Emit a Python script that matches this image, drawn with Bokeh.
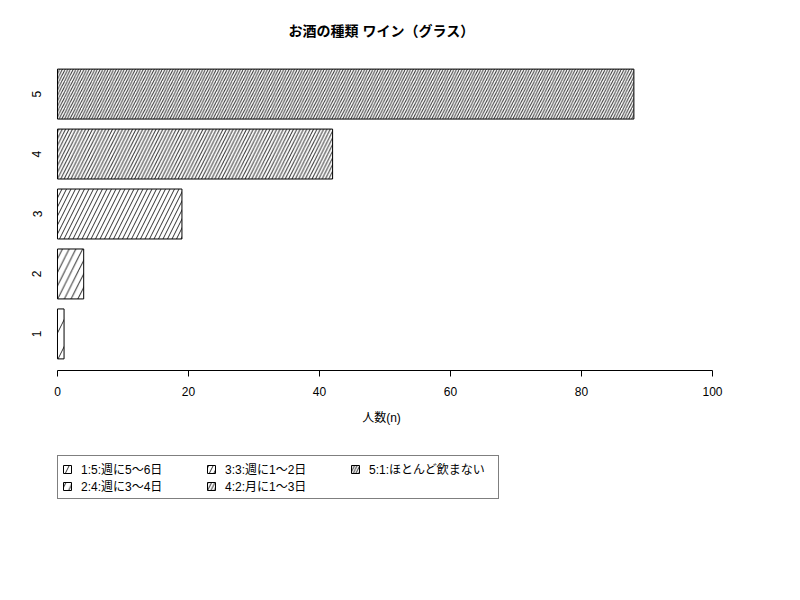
from bokeh.plotting import figure
from bokeh.layouts import column
from bokeh.models import (FactorRange, Range1d, ColumnDataSource, Legend, LegendItem,
                          FixedTicker, CDSView, IndexFilter)
from bokeh.embed import file_html
from bokeh.resources import INLINE

# ---- data ----
title_text = "お酒の種類 ワイン（グラス）"
categories = ["1", "2", "3", "4", "5"]
counts = [1, 4, 19, 42, 88]
legend_labels = ["1:5:週に5〜6日", "2:4:週に3〜4日", "3:3:週に1〜2日",
                 "4:2:月に1〜3日", "5:1:ほとんど飲まない"]
x_ticks = [0, 20, 40, 60, 80, 100]
x_label = "人数(n)"

# ---- styles ----
FONT = "Liberation Sans, Noto Sans CJK JP"
hatch_scales = [27, 13.5, 9, 6.7, 5.4]   # denser hatching for each bar

source = ColumnDataSource(dict(cat=categories, n=counts))


def add_bars(fig):
    rs = []
    for i, hs in enumerate(hatch_scales):
        rs.append(fig.hbar(y="cat", right="n", left=0, source=source,
                           view=CDSView(filter=IndexFilter([i])),
                           height=0.833, fill_color="white", line_color="black",
                           line_width=1, hatch_pattern="/", hatch_scale=hs,
                           hatch_color="black", hatch_weight=1, hatch_alpha=0.8))
    return rs


# ---------------- main chart ----------------
p = figure(width=784, height=440, output_backend="svg", toolbar_location=None,
           y_range=FactorRange(factors=categories, range_padding=0.11,
                               range_padding_units="absolute"),
           x_range=Range1d(-1.832, 100.763),
           min_border_left=45, min_border_right=67, min_border_top=57,
           min_border_bottom=70, background_fill_color="white",
           border_fill_color="white")

add_bars(p)

p.title.text = title_text
p.title.align = "center"
p.title.text_font = FONT
p.title.text_font_size = "14px"
p.title.text_font_style = "bold"
p.title.text_color = "black"
p.title.standoff = 38

p.grid.visible = False
p.outline_line_color = None

xa = p.xaxis[0]
xa.ticker = FixedTicker(ticks=x_ticks)
xa.bounds = (0, 100)
xa.major_tick_out = 6
xa.major_tick_in = 0
xa.minor_tick_line_color = None
xa.major_label_text_font = FONT
xa.major_label_text_font_size = "12px"
xa.major_label_text_color = "black"
xa.major_label_standoff = 10
xa.axis_label = x_label
xa.axis_label_text_font = FONT
xa.axis_label_text_font_size = "12px"
xa.axis_label_text_font_style = "normal"
xa.axis_label_text_color = "black"
xa.axis_label_standoff = 12
xa.axis_line_color = "black"
xa.major_tick_line_color = "black"

ya = p.yaxis[0]
ya.axis_line_color = None
ya.major_tick_line_color = None
ya.minor_tick_line_color = None
ya.major_tick_out = 0
ya.major_tick_in = 0
ya.major_label_orientation = "vertical"
ya.major_label_text_font = FONT
ya.major_label_text_font_size = "12px"
ya.major_label_text_color = "black"
ya.major_label_standoff = 4

# ---------------- legend strip ----------------
q = figure(width=784, height=144, output_backend="svg", toolbar_location=None,
           x_axis_location=None, y_axis_location=None,
           y_range=FactorRange(factors=categories), x_range=Range1d(1000, 1001),
           min_border=0, background_fill_color="white", border_fill_color="white")
q.grid.visible = False
q.outline_line_color = None
rq = add_bars(q)
for rr in rq:
    rr.visible = False

items = [LegendItem(label=legend_labels[i], renderers=[rq[i]])
         for i in range(len(legend_labels))]
legend = Legend(items=items, location=(12, 85), orientation="vertical", nrows=2,
                glyph_width=10, glyph_height=10, label_standoff=9, label_width=125,
                label_text_font=FONT, label_text_font_size="12px",
                label_text_color="black", label_height=12, spacing=0, padding=4,
                margin=0, inactive_fill_alpha=0.0,
                border_line_color="black", border_line_width=1,
                background_fill_color="white", background_fill_alpha=1.0)
q.add_layout(legend, "center")

layout = column(p, q, spacing=0)
open("out.html", "w").write(file_html(layout, INLINE))
